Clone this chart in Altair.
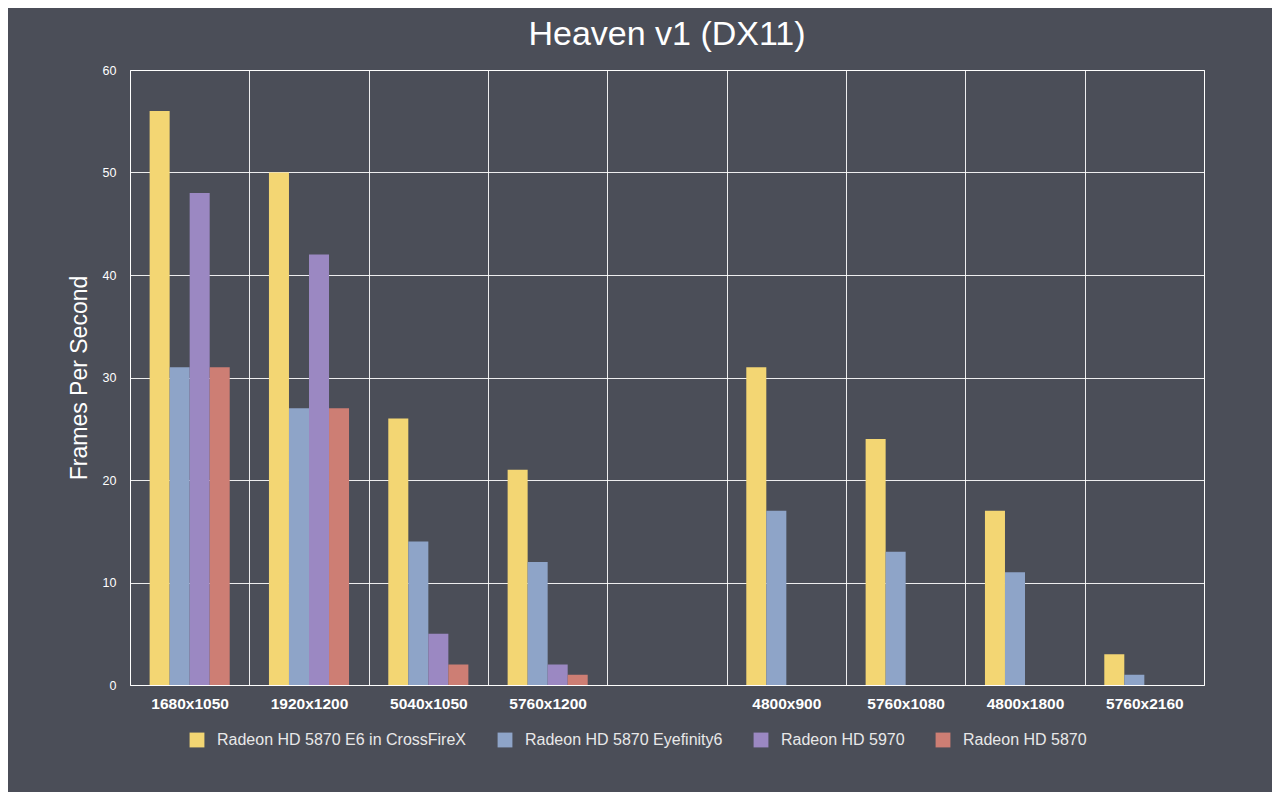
import altair as alt
import pandas as pd

categories = ["1680x1050", "1920x1200", "5040x1050", "5760x1200", " ",
              "4800x900", "5760x1080", "4800x1800", "5760x2160"]
series = ["Radeon HD 5870 E6 in CrossFireX", "Radeon HD 5870 Eyefinity6",
          "Radeon HD 5970", "Radeon HD 5870"]
colors = ["#f3d673", "#8ea4c8", "#9b88c2", "#cd7e74"]

crossfirex = [56, 50, 26, 21, None, 31, 24, 17, 3]
eyefinity6 = [31, 27, 14, 12, None, 17, 13, 11, 1]
hd5970 = [48, 42, 5, 2, None, None, None, None, None]
hd5870 = [31, 27, 2, 1, None, None, None, None, None]

rows = []
for name, vals in zip(series, [crossfirex, eyefinity6, hd5970, hd5870]):
    for c, v in zip(categories, vals):
        if v is not None:
            rows.append({"Resolution": c, "Card": name, "FPS": v})
df = pd.DataFrame(rows)

chart = alt.Chart(df).mark_bar().encode(
    x=alt.X("Resolution:N", sort=categories,
            scale=alt.Scale(domain=categories, paddingInner=0, paddingOuter=0),
            axis=alt.Axis(title=None, tickBand="extent", grid=True, gridColor="white",
                          gridOpacity=0.9, ticks=False, domain=False, labelAngle=0,
                          labelColor="white", labelFontSize=15.5, labelFontWeight="bold",
                          labelFont="Liberation Sans", labelPadding=11)),
    xOffset=alt.XOffset("Card:N", sort=series,
                        scale=alt.Scale(domain=series, paddingInner=0, paddingOuter=0.98)),
    y=alt.Y("FPS:Q", scale=alt.Scale(domain=[0, 60]),
            axis=alt.Axis(title="Frames Per Second", values=[0, 10, 20, 30, 40, 50, 60],
                          grid=True, gridColor="white", gridOpacity=0.9, ticks=False,
                          domain=False, labelColor="white", labelFontSize=12.5,
                          labelFont="Liberation Sans", labelPadding=14,
                          titleColor="white", titleFontSize=23, titleFontWeight="normal",
                          titleFont="Liberation Sans", titlePadding=11)),
    color=alt.Color("Card:N", sort=series,
                    scale=alt.Scale(domain=series, range=colors),
                    legend=alt.Legend(title=None, orient="none", direction="horizontal",
                                      legendX=59, legendY=662, symbolType="square",
                                      symbolSize=220, symbolOpacity=1, symbolStrokeWidth=0,
                                      labelColor="#e8e8e8", labelFontSize=16,
                                      labelFont="Liberation Sans", labelOffset=12,
                                      labelLimit=0, columnPadding=30, padding=0)),
).properties(
    width=1074, height=615,
    title=alt.TitleParams("Heaven v1 (DX11)", fontSize=34, fontWeight="normal",
                          color="white", font="Liberation Sans", anchor="middle", offset=12),
    autosize=alt.AutoSizeParams(type="none"),
    padding={"left": 122, "top": 62, "right": 68, "bottom": 107},
    background="#4b4e58",
).configure_view(stroke="white", strokeOpacity=0.9)

chart.save("out.html", embed_options={"renderer": "svg", "actions": False})
